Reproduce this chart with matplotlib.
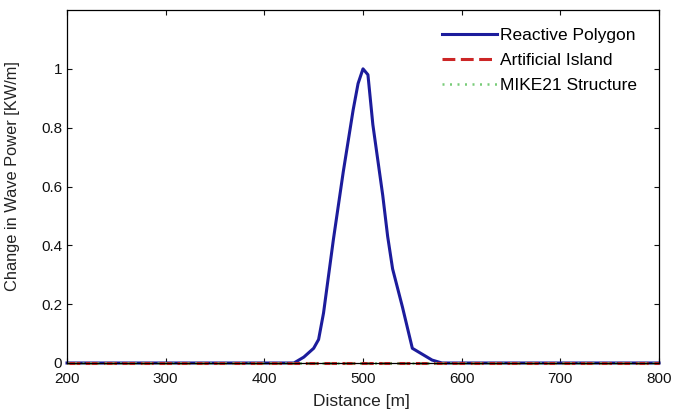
import matplotlib.pyplot as plt

# data
distance = [200, 430, 440, 450, 455, 460, 470, 480, 490, 495, 500, 505,
            510, 520, 525, 530, 540, 550, 560, 570, 580, 800]
reactive = [0.0, 0.0, 0.02, 0.05, 0.08, 0.17, 0.42, 0.65, 0.86, 0.95, 1.0, 0.98,
            0.81, 0.57, 0.43, 0.32, 0.19, 0.05, 0.03, 0.01, 0.0, 0.0]
island_x = [200, 800]
island = [0.0, 0.0]
mike_x = [200, 800]
mike = [0.0, 0.0]

xticks = [200, 300, 400, 500, 600, 700, 800]
yticks = [0, 0.2, 0.4, 0.6, 0.8, 1]
ytick_labels = ['0', '0.2', '0.4', '0.6', '0.8', '1']

plt.rcParams['font.family'] = ['Liberation Sans', 'DejaVu Sans']

fig = plt.figure(figsize=(6.73, 4.16), dpi=100)
ax = fig.add_axes([67/673, 53/416, 592/673, 353/416])

ax.plot(distance, reactive, color='#1c1c9c', lw=2.2, label='Reactive Polygon', clip_on=False)
ax.plot(island_x, island, color='#cc2626', lw=2.2, ls=(0, (4.2, 1.8)),
        label='Artificial Island', clip_on=False)
ax.plot(mike_x, mike, color='#78cc78', lw=1.8, ls=(0, (0.8, 2.2)),
        label='MIKE21 Structure', clip_on=False)

ax.set_xlim(200, 800)
ax.set_ylim(0, 1.2)
ax.set_xticks(xticks)
ax.set_yticks(yticks)
ax.set_yticklabels(ytick_labels)
ax.tick_params(direction='in', length=3.6, width=0.8, top=True, right=True,
               labelsize=11, colors='#111111')
ax.tick_params(axis='x', pad=6.5)
ax.tick_params(axis='y', pad=3.6)
for s in ax.spines.values():
    s.set_linewidth(0.9)

ax.set_xlabel('Distance [m]', fontsize=12.5, color='#222222')
ax.xaxis.set_label_coords(0.497, -0.088)
ax.set_ylabel('Change in Wave Power [KW/m]', fontsize=11.8, color='#222222')
ax.yaxis.set_label_coords(-0.079, 0.53)

ax.legend(loc='upper left', bbox_to_anchor=(0.633, 0.95), frameon=False,
          fontsize=12.5, handlelength=3.16, handletextpad=0.2, labelspacing=0.57,
          borderpad=0, borderaxespad=0)

fig.savefig('out.png', dpi=100)
